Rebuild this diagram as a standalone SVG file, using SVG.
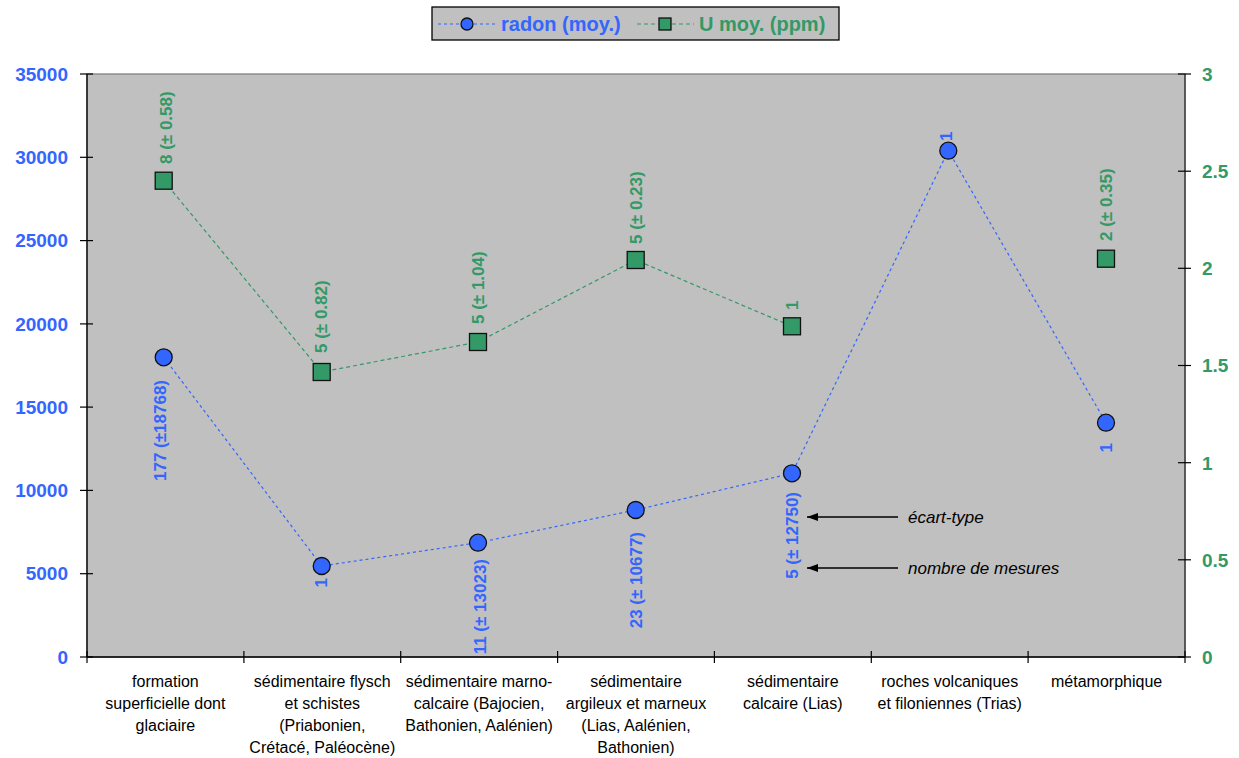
<svg xmlns="http://www.w3.org/2000/svg" width="1239" height="758" viewBox="0 0 1239 758">
<defs>
<style>
.ax{stroke:#000;stroke-width:1.3;fill:none}
.tk{stroke:#000;stroke-width:1.2}
.lblB{font-family:"Liberation Sans",Arial,sans-serif;font-weight:bold;font-size:19px;fill:#3366FF}
.lblG{font-family:"Liberation Sans",Arial,sans-serif;font-weight:bold;font-size:19px;fill:#339966}
.dB{font-family:"Liberation Sans",Arial,sans-serif;font-weight:bold;font-size:17px;fill:#3366FF}
.dG{font-family:"Liberation Sans",Arial,sans-serif;font-weight:bold;font-size:17px;fill:#339966}
.cat{font-family:"Liberation Sans",Arial,sans-serif;font-size:16px;fill:#000;text-anchor:middle}
.ann{font-family:"Liberation Sans",Arial,sans-serif;font-style:italic;font-size:17px;fill:#000}
.leg{font-family:"Liberation Sans",Arial,sans-serif;font-weight:bold;font-size:20px}
.lb{stroke:#3366FF;stroke-width:1.2;stroke-dasharray:3,3;fill:none}
.lg{stroke:#339966;stroke-width:1.2;stroke-dasharray:4,3;fill:none}
.mc{fill:#3366FF;stroke:#111;stroke-width:1.3}
.ms{fill:#339966;stroke:#111;stroke-width:1.3}
</style>
<marker id="arr" markerWidth="12" markerHeight="10" refX="11" refY="5" orient="auto" markerUnits="userSpaceOnUse">
<path d="M0,1 L11,5 L0,9 Z" fill="#000"/>
</marker>
</defs>
<rect width="1239" height="758" fill="#fff"/>

<g id="plot">
<rect x="87" y="74" width="1098" height="583" fill="#C0C0C0" stroke="#808080" stroke-width="1.3"/>
<line class="ax" x1="87" y1="74" x2="87" y2="657"/>
<line class="ax" x1="87" y1="657" x2="1185" y2="657"/>
<line class="ax" x1="1185" y1="74" x2="1185" y2="657" style="stroke:#333"/>
</g>

<g id="left-axis">
<g class="tk">
<line x1="80" y1="74" x2="93" y2="74"/>
<line x1="80" y1="157.3" x2="93" y2="157.3"/>
<line x1="80" y1="240.6" x2="93" y2="240.6"/>
<line x1="80" y1="323.9" x2="93" y2="323.9"/>
<line x1="80" y1="407.1" x2="93" y2="407.1"/>
<line x1="80" y1="490.4" x2="93" y2="490.4"/>
<line x1="80" y1="573.7" x2="93" y2="573.7"/>
<line x1="80" y1="657" x2="93" y2="657"/>
</g>
<g class="lblB" text-anchor="end">
<text x="68" y="81">35000</text>
<text x="68" y="164">30000</text>
<text x="68" y="247">25000</text>
<text x="68" y="331">20000</text>
<text x="68" y="414">15000</text>
<text x="68" y="497">10000</text>
<text x="68" y="580">5000</text>
<text x="68" y="664">0</text>
</g>
</g>

<g id="right-axis">
<g class="tk">
<line x1="1178" y1="74" x2="1191" y2="74"/>
<line x1="1178" y1="171.2" x2="1191" y2="171.2"/>
<line x1="1178" y1="268.3" x2="1191" y2="268.3"/>
<line x1="1178" y1="365.5" x2="1191" y2="365.5"/>
<line x1="1178" y1="462.7" x2="1191" y2="462.7"/>
<line x1="1178" y1="559.8" x2="1191" y2="559.8"/>
<line x1="1178" y1="657" x2="1191" y2="657"/>
</g>
<g class="lblG">
<text x="1202" y="81">3</text>
<text x="1202" y="178">2.5</text>
<text x="1202" y="275">2</text>
<text x="1202" y="372">1.5</text>
<text x="1202" y="470">1</text>
<text x="1202" y="567">0.5</text>
<text x="1202" y="664">0</text>
</g>
</g>

<g id="x-axis">
<g class="tk">
<line x1="87" y1="651" x2="87" y2="663"/>
<line x1="243.9" y1="651" x2="243.9" y2="663"/>
<line x1="400.7" y1="651" x2="400.7" y2="663"/>
<line x1="557.6" y1="651" x2="557.6" y2="663"/>
<line x1="714.4" y1="651" x2="714.4" y2="663"/>
<line x1="871.3" y1="651" x2="871.3" y2="663"/>
<line x1="1028.1" y1="651" x2="1028.1" y2="663"/>
<line x1="1185" y1="651" x2="1185" y2="663"/>
</g>
<g id="cat1" class="cat"><text x="165.4" y="687">formation</text><text x="165.4" y="709">superficielle dont</text><text x="165.4" y="731">glaciaire</text></g>
<g id="cat2" class="cat"><text x="322.3" y="687">sédimentaire flysch</text><text x="322.3" y="709">et schistes</text><text x="322.3" y="731">(Priabonien,</text><text x="322.3" y="753">Crétacé, Paléocène)</text></g>
<g id="cat3" class="cat"><text x="479.1" y="687">sédimentaire marno-</text><text x="479.1" y="709">calcaire (Bajocien,</text><text x="479.1" y="731">Bathonien, Aalénien)</text></g>
<g id="cat4" class="cat"><text x="636" y="687">sédimentaire</text><text x="636" y="709">argileux et marneux</text><text x="636" y="731">(Lias, Aalénien,</text><text x="636" y="753">Bathonien)</text></g>
<g id="cat5" class="cat"><text x="792.8" y="687">sédimentaire</text><text x="792.8" y="709">calcaire (Lias)</text></g>
<g id="cat6" class="cat"><text x="949.7" y="687">roches volcaniques</text><text x="949.7" y="709">et filoniennes (Trias)</text></g>
<g id="cat7" class="cat"><text x="1106.6" y="687">métamorphique</text></g>
</g>

<g id="connectors">
<polyline class="lb" points="163.7,357.3 321.7,566 478,542.7 635.7,510 792,473.3 948.3,150.7 1106,422.7"/>
<polyline class="lg" points="163.7,180.7 321.7,372 478,342 635.7,260 792,326.3"/>
<line x1="898" y1="517" x2="807" y2="517" stroke="#000" stroke-width="1.3" marker-end="url(#arr)"/>
<line x1="898" y1="568" x2="807" y2="568" stroke="#000" stroke-width="1.3" marker-end="url(#arr)"/>
</g>

<g id="radon-points">
<circle class="mc" cx="163.7" cy="357.3" r="8.5"/>
<circle class="mc" cx="321.7" cy="566" r="8.5"/>
<circle class="mc" cx="478" cy="542.7" r="8.5"/>
<circle class="mc" cx="635.7" cy="510" r="8.5"/>
<circle class="mc" cx="792" cy="473.3" r="8.5"/>
<circle class="mc" cx="948.3" cy="150.7" r="8.5"/>
<circle class="mc" cx="1106" cy="422.7" r="8.5"/>
</g>

<g id="uranium-points">
<rect class="ms" x="155.2" y="172.2" width="17" height="17"/>
<rect class="ms" x="313.2" y="363.5" width="17" height="17"/>
<rect class="ms" x="469.5" y="333.5" width="17" height="17"/>
<rect class="ms" x="627.2" y="251.5" width="17" height="17"/>
<rect class="ms" x="783.5" y="317.8" width="17" height="17"/>
<rect class="ms" x="1097.5" y="250.2" width="17" height="17"/>
</g>

<g id="radon-labels" class="dB">
<text transform="translate(166,380) rotate(-90)" text-anchor="end">177 (±18768)</text>
<text transform="translate(327,578) rotate(-90)" text-anchor="end">1</text>
<text transform="translate(486,559) rotate(-90)" text-anchor="end">11 (± 13023)</text>
<text transform="translate(642,532) rotate(-90)" text-anchor="end">23 (± 10677)</text>
<text transform="translate(798,492) rotate(-90)" text-anchor="end">5 (± 12750)</text>
<text transform="translate(952,141) rotate(-90)">1</text>
<text transform="translate(1112,443) rotate(-90)" text-anchor="end">1</text>
</g>

<g id="uranium-labels" class="dG">
<text transform="translate(172,164) rotate(-90)">8 (± 0.58)</text>
<text transform="translate(327,353) rotate(-90)">5 (± 0.82)</text>
<text transform="translate(484,324) rotate(-90)">5 (± 1.04)</text>
<text transform="translate(642,244) rotate(-90)">5 (± 0.23)</text>
<text transform="translate(798,310) rotate(-90)">1</text>
<text transform="translate(1112,241) rotate(-90)">2 (± 0.35)</text>
</g>

<g id="annotations">
<text class="ann" x="908" y="523">écart-type</text>
<text class="ann" x="908" y="574">nombre de mesures</text>
</g>

<g id="legend">
<rect x="432" y="7" width="407" height="33" fill="#C0C0C0" stroke="#000" stroke-width="1.3"/>
<line class="lb" x1="438" y1="24" x2="498" y2="24"/>
<circle class="mc" cx="467" cy="24" r="6"/>
<text class="leg" x="501" y="31" fill="#3366FF">radon (moy.)</text>
<line class="lg" x1="637" y1="24" x2="694" y2="24"/>
<rect class="ms" x="659" y="18" width="12" height="12"/>
<text class="leg" x="699" y="31" fill="#339966">U moy. (ppm)</text>
</g>
</svg>
